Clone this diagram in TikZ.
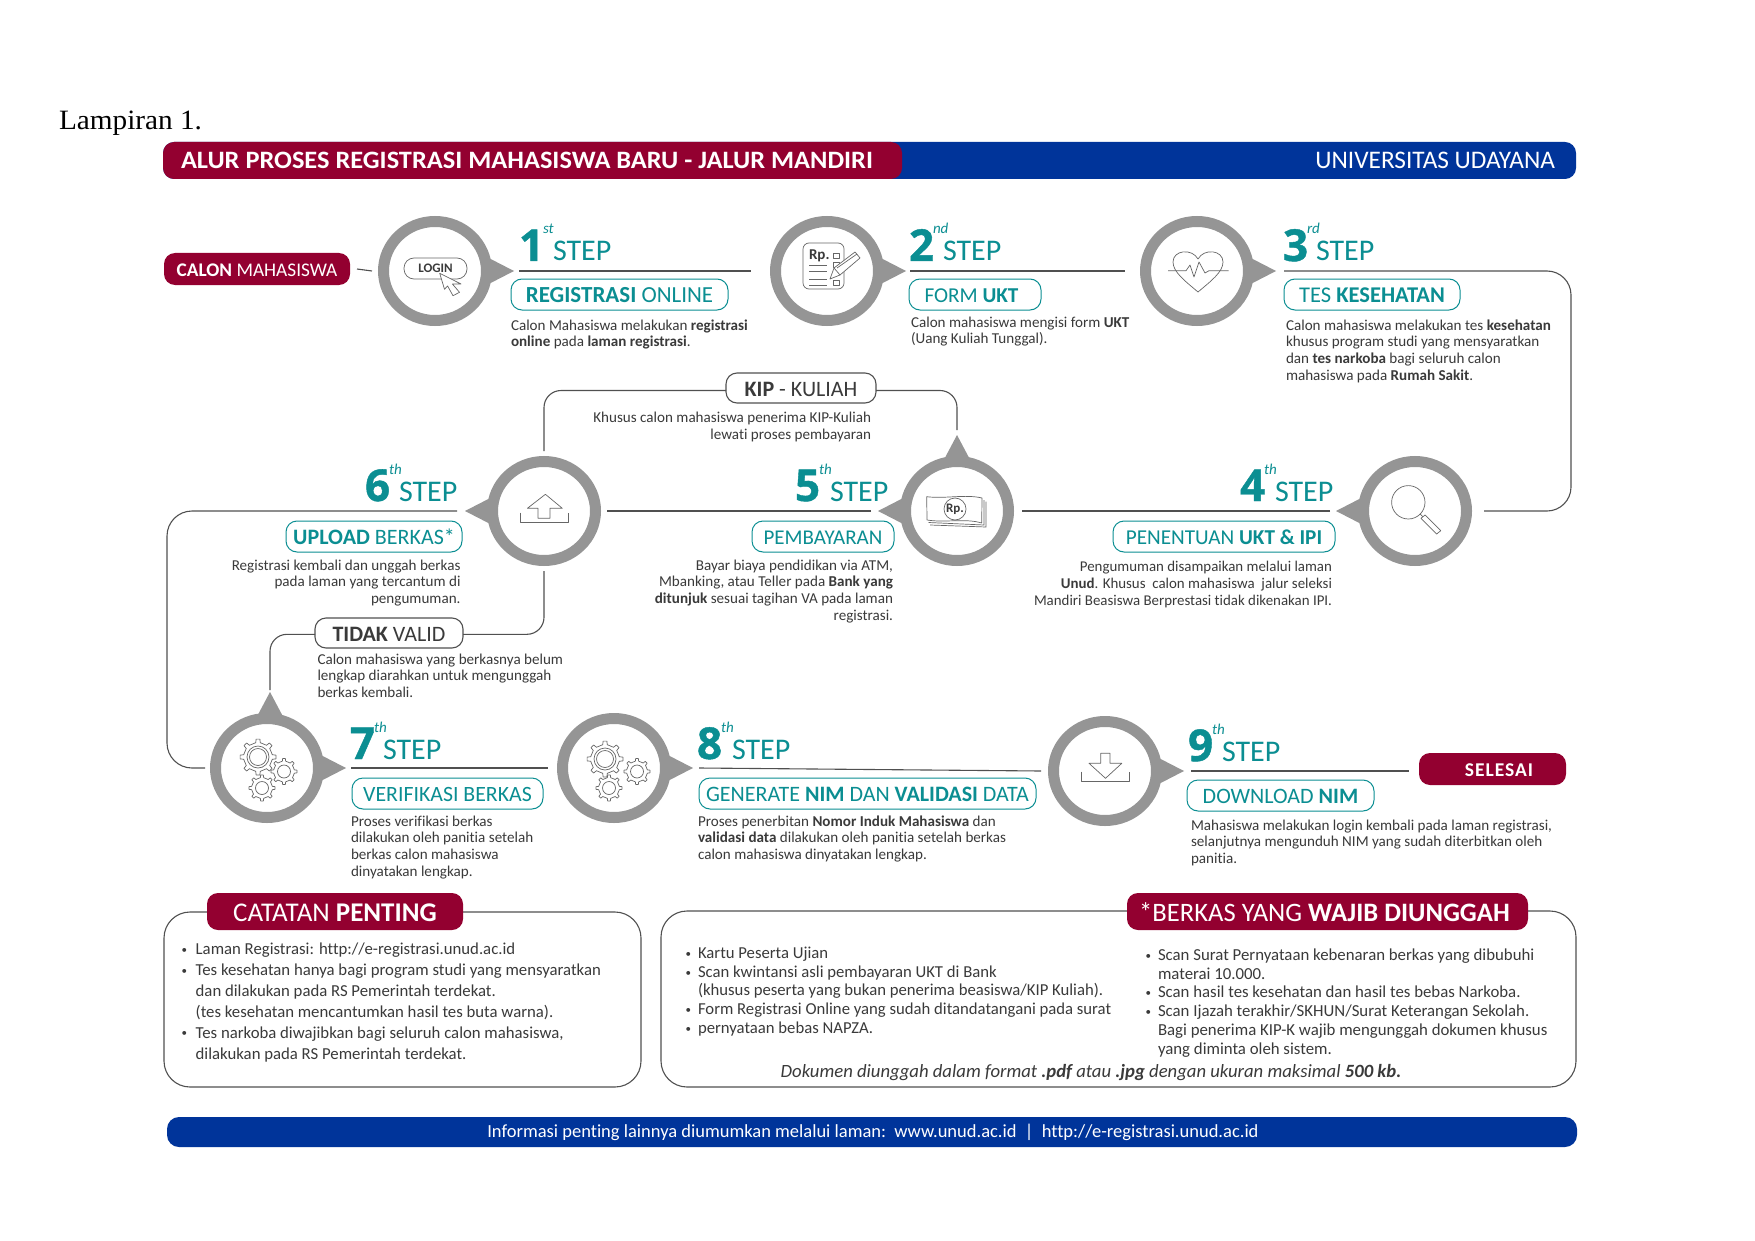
\documentclass[tikz,border=0pt]{standalone}
\usepackage{fontspec}
\setmainfont[Ligatures=CommonOff]{Carlito}
\newfontfamily\lampfont{Liberation Serif}
\newfontfamily\digfont[BoldFeatures={FakeBold=1}]{Open Sans}
\usetikzlibrary{shapes.geometric,calc}
\definecolor{crimson}{HTML}{930030}
\definecolor{royal}{HTML}{00349A}
\definecolor{tealc}{HTML}{0B8E92}
\definecolor{ringc}{HTML}{959595}
\definecolor{txt}{HTML}{3A3A3A}
\definecolor{linec}{HTML}{505050}
\definecolor{iconc}{HTML}{666666}
\newcommand\fs[2]{\fontsize{#1}{#2}\selectfont}
\newcommand\blockL[1]{\begin{tabular}[t]{@{}l@{}}#1\end{tabular}}
\newcommand\blockR[1]{\begin{tabular}[t]{@{}r@{}}#1\end{tabular}}
\newcommand\bu[2]{\makebox[#1pt][l]{\hspace{1.5pt}\fs{11}{11}\raisebox{1.2pt}{•}}#2}
\newcommand\cont[2]{\hspace*{#1pt}#2}
\tikzset{
  x=1pt,y=-1pt,
  lbl/.style={inner sep=0pt,outer sep=0pt,text=txt},
  descL/.style={lbl,anchor=base west,font=\fs{15.1}{16.8}},
  descR/.style={lbl,anchor=base east,font=\fs{15.1}{16.8}},
  boxbase/.style={inner sep=0pt,outer sep=0pt,align=center},
  tealpill/.style={boxbase,draw=tealc,fill=white,line width=1pt,rounded corners=11pt,text=tealc,text height=16.5pt,text depth=0pt},
  darkpill/.style={boxbase,draw=linec,fill=white,line width=1.1pt,rounded corners=11pt,text=txt,font=\fs{22}{24},text height=16.5pt,text depth=0pt},
  redbar/.style={boxbase,fill=crimson,rounded corners=11pt,text=white},
  bluebar/.style={boxbase,fill=royal,rounded corners=11pt,text=white},
  framebox/.style={boxbase,draw=linec,line width=1.1pt,rounded corners=26pt},
  ringnode/.style={ellipse,draw=ringc,fill=white,line width=11pt,minimum width=103pt,minimum height=99pt,inner sep=0pt,outer sep=0pt},
  conn/.style={draw=linec,line width=1.1pt},
  ic/.style={draw=iconc,line width=.7pt,line join=round},
  icwhite/.style={ic,fill=white},
  dignum/.style={inner sep=0pt,outer sep=0pt,anchor=base west,text=tealc,font=\digfont\bfseries\fs{44}{44}},
  supnum/.style={inner sep=0pt,outer sep=0pt,anchor=base west,text=tealc,font=\itshape\fs{15}{15}},
  steptxt/.style={inner sep=0pt,outer sep=0pt,anchor=base west,text=tealc,font=\fs{30}{30}},
}
\newcommand\boxat[7]{\node[#1,minimum width={(#5-#3)*1pt},minimum height={(#6-#4)*1pt}] (#2) at ({(#3+#5)/2},{(#4+#6)/2}) {#7};}
\newcommand\tipR[2]{\fill[ringc] ({#1+79},#2) -- ({#1+44},{#2-18}) -- ({#1+44},{#2+18}) -- cycle;}
\newcommand\tipL[2]{\fill[ringc] ({#1-79},#2) -- ({#1-44},{#2-18}) -- ({#1-44},{#2+18}) -- cycle;}
\newcommand\tipT[2]{\fill[ringc] (#1,{#2-76}) -- ({#1-18},{#2-42}) -- ({#1+18},{#2-42}) -- cycle;}
\newcommand\stepmark[6]{%
  \node[dignum] (dg#1) at (#2,#3) {#4};
  \node[supnum] (su#1) at ({#2+24},{#3-27}) {#5};
  \node[steptxt] (st#1) at (#6,#3) {STEP};}
\newcommand\gearicon[6]{%
  \draw[ic,shift={(#1,#2)}] (-9:#4)
    \foreach \a in {0,45,...,315}{ -- (\a-9:#4) -- (\a-6:#3) -- (\a+6:#3) -- (\a+9:#4) -- (\a+36:#4)}
    -- cycle;
  \draw[ic] (#1,#2) circle[radius=#5];
  \ifdim #6pt>0pt \draw[ic] (#1,#2) circle[radius=#6];\fi}
\begin{document}
\begin{tikzpicture}
\useasboundingbox (0,0) rectangle (1755,1241);
\fill[white] (0,0) rectangle (1755,1241);
\node[lbl,anchor=base west,text=black,font=\lampfont\fs{28}{28}] (lamp) at (59,130) {\resizebox{143pt}{\height}{Lampiran 1.}};
% header
\boxat{bluebar}{hblue}{163}{142}{1576}{179}{}
\boxat{redbar}{hred}{163}{142}{902}{179}{}
\node[lbl,anchor=base west,text=white,font=\bfseries\fs{25}{26}] (htitle) at (181,169) {\resizebox{692pt}{\height}{ALUR PROSES REGISTRASI MAHASISWA BARU - JALUR MANDIRI}};
\node[lbl,anchor=base east,text=white,font=\fs{25.3}{26}] (huni) at (1555,169) {UNIVERSITAS UDAYANA};
% start
\boxat{redbar,font=\fs{19.3}{22},text height=14.5pt,text depth=0pt}{calon}{164}{253}{350}{285}{\textbf{CALON} MAHASISWA}
% rings and their tips
\tipR{435}{271}\node[ringnode] (c1) at (435,271) {};\coordinate (tip1) at (514,271);
\tipR{827}{271}\node[ringnode] (c2) at (827,271) {};\coordinate (tip2) at (906,271);
\tipR{1197}{271}\node[ringnode] (c3) at (1197,271) {};\coordinate (tip3) at (1276,271);
\tipL{1415}{511}\node[ringnode] (c4) at (1415,511) {};\coordinate (tip4) at (1336,511);
\tipL{957}{511}\tipT{957}{511}\node[ringnode] (c5) at (957,511) {};\coordinate (tip5) at (878,511);\coordinate (tip5t) at (957,435);
\tipL{544}{511}\node[ringnode] (c6) at (544,511) {};\coordinate (tip6) at (465,511);
\tipR{267}{768}\tipT{270}{768}\node[ringnode] (c7) at (267,768) {};\coordinate (tip7) at (346,768);\coordinate (tip7t) at (270,692);
\tipR{614}{768}\node[ringnode] (c8) at (614,768) {};\coordinate (tip8) at (693,768);
\tipR{1105}{771}\node[ringnode] (c9) at (1105,771) {};\coordinate (tip9) at (1184,771);
% connectors
\boxat{redbar,font=\bfseries\fs{19.5}{22}\addfontfeature{LetterSpace=5},text height=14pt,text depth=0pt}{selesai}{1419}{753}{1566}{785}{\hspace{13pt}SELESAI}
\draw[conn] ([xshift=7pt]calon.east) -- ([xshift=-11.5pt]c1.west);
\draw[conn] ([xshift=5pt]tip1) -- ([xshift=-24.5pt]c2.west);
\draw[conn] ([xshift=4pt]tip2) -- ([xshift=-20.5pt]c3.west);
\coordinate (cr3) at (1571,271);
\draw[conn,rounded corners=24pt] ([xshift=8pt]tip3) -- (cr3) -- (cr3 |- c4.east) -- ([xshift=17.5pt]c4.east);
\draw[conn] ([xshift=-6pt]tip4) -- ([xshift=13.5pt]c5.east);
\draw[conn] ([xshift=-7pt]tip5) -- ([xshift=11.5pt]c6.east);
\coordinate (cr6) at (167,511);
\draw[conn,rounded corners=25pt] ([xshift=-8pt]tip6) -- (cr6) -- (cr6 |- c7.west) -- ([xshift=-10.5pt]c7.west);
\draw[conn] ([xshift=5pt]tip7) -- ([xshift=-14.5pt]c8.west);
\draw[conn] ([xshift=6pt]tip8) -- ([xshift=-12.5pt]c9.west);
\draw[conn] ([xshift=7pt]tip9) -- ([xshift=-10pt]selesai.west |- tip9);
% side routes
\boxat{darkpill}{kip}{726}{373}{876}{403}{\textbf{KIP} - KULIAH}
\boxat{darkpill}{tidak}{315}{618}{463}{648}{\textbf{TIDAK} VALID}
\draw[conn,rounded corners=17pt] ([yshift=-2.5pt]kip.west) -| ([yshift=10.5pt]c6.north);
\draw[conn,rounded corners=17pt] ([yshift=-2.5pt]kip.east) -| ([yshift=5pt]tip5t);
\draw[conn,rounded corners=17pt] ([yshift=-1.3pt]tidak.east) -| ([yshift=-10.5pt]c6.south);
\draw[conn,rounded corners=17pt] ([yshift=-1.3pt]tidak.west) -| ([yshift=2pt]tip7t);
% steps
\stepmark{1}{519}{261}{1}{st}{553}
\stepmark{2}{909}{261}{2}{nd}{943}
\stepmark{3}{1283}{261}{3}{rd}{1316}
\stepmark{4}{1240}{501}{4}{th}{1275}
\stepmark{5}{795}{501}{5}{th}{830}
\stepmark{6}{365}{501}{6}{th}{399}
\stepmark{7}{350}{759}{7}{th}{383}
\stepmark{8}{697}{759}{8}{th}{732}
\stepmark{9}{1188}{761}{9}{th}{1222}
% step titles
\boxat{tealpill,font=\fs{23}{24}}{p1}{511}{279}{728}{310}{\textbf{REGISTRASI} ONLINE}
\boxat{tealpill,font=\fs{21.2}{24}}{p2}{909}{279}{1041}{310}{FORM \textbf{UKT}\hspace{7pt}}
\boxat{tealpill,font=\fs{22.5}{24}}{p3}{1284}{279}{1460}{310}{TES \textbf{KESEHATAN}}
\boxat{tealpill,font=\fs{21.2}{24}}{p4}{1113}{521}{1335}{552}{PENENTUAN \textbf{UKT \& IPI}}
\boxat{tealpill,font=\fs{21}{24}}{p5}{752}{521}{894}{552}{PEMBAYARAN}
\boxat{tealpill,font=\fs{22}{24}}{p6}{286}{521}{462}{552}{\textbf{UPLOAD} BERKAS*}
\boxat{tealpill,font=\fs{21.8}{24}}{p7}{352}{778}{543}{809}{VERIFIKASI BERKAS}
\boxat{tealpill,font=\fs{22}{24}}{p8}{699}{778}{1036}{809}{GENERATE \textbf{NIM} DAN \textbf{VALIDASI} DATA}
\boxat{tealpill,font=\fs{22}{24}}{p9}{1187}{780}{1374}{811}{DOWNLOAD \textbf{NIM}}
% descriptions
\node[descL] (d1) at (511,330) {\blockL{Calon Mahasiswa melakukan \textbf{registrasi}\\\textbf{online} pada \textbf{laman registrasi}.}};
\node[descL] (d2) at (911,327) {\blockL{Calon mahasiswa mengisi form \textbf{UKT}\\(Uang Kuliah Tunggal).}};
\node[descL] (d3) at (1286,330) {\blockL{Calon mahasiswa melakukan tes \textbf{kesehatan}\\khusus program studi yang mensyaratkan\\dan \textbf{tes narkoba} bagi seluruh calon\\mahasiswa pada \textbf{Rumah Sakit}.}};
\node[descR,font=\fs{14.9}{16.8}] (d4) at (1332,571.5) {\blockR{Pengumuman disampaikan melalui laman\\\textbf{Unud}. Khusus\ \ calon mahasiswa\ \ jalur seleksi\\Mandiri Beasiswa Berprestasi tidak dikenakan IPI.}};
\node[descR] (d5) at (893,570) {\blockR{Bayar biaya pendidikan via ATM,\\Mbanking, atau Teller pada \textbf{Bank yang}\\\textbf{ditunjuk} sesuai tagihan VA pada laman\\registrasi.}};
\node[descR] (d6) at (460.5,570) {\blockR{Registrasi kembali dan unggah berkas\\pada laman yang tercantum di\\pengumuman.}};
\node[descL] (d7) at (351,826) {\blockL{Proses verifikasi berkas\\dilakukan oleh panitia setelah\\berkas calon mahasiswa\\dinyatakan lengkap.}};
\node[descL] (d8) at (698,826) {\blockL{Proses penerbitan \textbf{Nomor Induk Mahasiswa} dan\\\textbf{validasi data} dilakukan oleh panitia setelah berkas\\calon mahasiswa dinyatakan lengkap.}};
\node[descL] (d9) at (1191,830) {\blockL{Mahasiswa melakukan login kembali pada laman registrasi,\\selanjutnya mengunduh NIM yang sudah diterbitkan oleh\\panitia.}};
\node[descR] (dkip) at (871,422.5) {\blockR{Khusus calon mahasiswa penerima KIP-Kuliah\\lewati proses pembayaran}};
\node[descL] (dtidak) at (317.5,664) {\blockL{Calon mahasiswa yang berkasnya belum\\lengkap diarahkan untuk mengunggah\\berkas kembali.}};
% notes
\boxat{framebox}{boxa}{164}{912}{641}{1087}{}
\boxat{framebox}{boxb}{661}{911}{1576}{1087}{}
\boxat{redbar,font=\fs{27}{28},text height=19.5pt,text depth=0pt}{nota}{207}{893}{463}{930}{CATATAN \textbf{PENTING}}
\boxat{redbar,font=\fs{26.6}{28},text height=19.5pt,text depth=0pt}{notb}{1127}{893}{1528}{930}{*BERKAS YANG \textbf{WAJIB DIUNGGAH}\hspace{6pt}}
\node[lbl,anchor=base west,font=\fs{16.75}{20.9}] (ta) at (180,954.5) {\blockL{\bu{15.7}{Laman Registrasi: http://e-registrasi.unud.ac.id}\\\bu{15.7}{Tes kesehatan hanya bagi program studi yang mensyaratkan}\\\cont{15.7}{dan dilakukan pada RS Pemerintah terdekat.}\\\cont{15.7}{(tes kesehatan mencantumkan hasil tes buta warna).}\\\bu{15.7}{Tes narkoba diwajibkan bagi seluruh calon mahasiswa,}\\\cont{15.7}{dilakukan pada RS Pemerintah terdekat.}}};
\node[lbl,anchor=base west,font=\fs{16.7}{18.7}] (tb) at (684,958.5) {\blockL{\bu{14}{Kartu Peserta Ujian}\\\bu{14}{Scan kwintansi asli pembayaran UKT di Bank}\\\cont{14}{(khusus peserta yang bukan penerima beasiswa/KIP Kuliah).}\\\bu{14}{Form Registrasi Online yang sudah ditandatangani pada surat}\\\bu{14}{pernyataan bebas NAPZA.}}};
\node[lbl,anchor=base west,font=\fs{16.8}{18.7}] (tc) at (1144,960.5) {\blockL{\bu{14}{Scan Surat Pernyataan kebenaran berkas yang dibubuhi}\\\cont{14}{materai 10.000.}\\\bu{14}{Scan hasil tes kesehatan dan hasil tes bebas Narkoba.}\\\bu{14}{Scan Ijazah terakhir/SKHUN/Surat Keterangan Sekolah.}\\\cont{14}{Bagi penerima KIP-K wajib mengunggah dokumen khusus}\\\cont{14}{yang diminta oleh sistem.}}};
\node[lbl,anchor=base,font=\itshape\fs{18.7}{20}] (tf) at (1091,1077) {Dokumen diunggah dalam format \textbf{.pdf} atau \textbf{.jpg} dengan ukuran maksimal \textbf{500 kb.}};
% footer
\boxat{bluebar,rounded corners=12pt}{foot}{167}{1117}{1577}{1147}{}
\node[lbl,anchor=base,text=white,font=\fs{18.5}{20}] (ftxt) at (873,1137.5) {Informasi penting lainnya diumumkan melalui laman:\ \ www.unud.ac.id\ \ |\ \ http://e-registrasi.unud.ac.id};
% icon 1 login
\boxat{ic,rounded corners=10pt,inner sep=0pt,font=\bfseries\fs{13}{14},text=txt}{login}{404}{258}{467}{279}{LOGIN}
\filldraw[icwhite] (439.7,273.3) -- (444.5,289.3) -- (447.6,286) -- (453,295.7) -- (459.5,292.3) -- (452.4,284) -- (461,284) -- cycle;
% icon 2 form
\draw[ic,rounded corners=6pt] (803,243) rectangle (844,289);
\node[lbl,anchor=base west,font=\bfseries\fs{15}{16}] (rpa) at (809,260) {Rp.};
\foreach \yy in {265,271.7,279,285.7} \draw[ic] (809,\yy) -- (827,\yy);
\draw[ic] (833,253) rectangle (839,258);
\draw[ic] (833,262) rectangle (839,267);
\draw[ic] (833,280) rectangle (839,285);
\filldraw[icwhite] (830,279) -- (834,268) -- (855,252) -- (860,258) -- (840,275) -- cycle;
\draw[ic] (834,268) -- (840,275);
\draw[ic] (837,268) -- (857,254);
% icon 3 heart
\draw[ic] (1198,292) .. controls (1185,281) and (1173,272) .. (1173,262) .. controls (1173,250) and (1192,248) .. (1198,259) .. controls (1204,248) and (1223,250) .. (1223,262) .. controls (1223,272) and (1211,281) .. (1198,292);
\fill[white] (1186,266) rectangle (1209,275);
\draw[ic] (1168,270.7) -- (1186,270.7) -- (1190,265) -- (1194,277) -- (1199,262) -- (1205,273) -- (1209,270.7) -- (1228.5,270.7);
% icon 4 magnifier
\draw[ic] (1408.3,502.3) circle[radius=16.7];
\draw[ic] (1420,514) -- (1423,517);
\draw[icwhite] (1425,515) -- (1440.7,530.7) -- (1436.7,534) -- (1421,518.3) -- cycle;
% icon 5 money
\draw[ic] (930,525) -- (986,527) -- (986,501.7);
\draw[ic] (928.5,522.5) -- (984,525) -- (984,500);
\draw[icwhite] (926.7,496.7) .. controls (945,499) and (965,494) .. (982,498) -- (981.7,523) .. controls (965,518) and (945,523) .. (927,520) -- cycle;
\draw[ic] (955,509) circle[radius=11];
\node[lbl,font=\bfseries\fs{13}{14}] (rpb) at (955,509) {Rp.};
% icon 6 upload
\draw[ic] (545.4,494.3) -- (562.3,508.3) -- (550,508.3) -- (550,518.3) -- (538,518.3) -- (538,508.3) -- (527.4,508.3) -- cycle;
\draw[ic] (520,512.7) -- (520,522.7) -- (568.6,522.7) -- (568.6,512.7);
% icon 7 and 8 gears
\gearicon{258}{757}{18}{14.5}{11}{8.5}
\gearicon{284}{771.5}{13}{10.5}{6.5}{0}
\gearicon{262}{788}{13}{10.5}{6.5}{0}
\gearicon{605}{759}{18}{14.5}{11}{8.5}
\gearicon{637}{771.5}{13}{10.5}{6.5}{0}
\gearicon{609}{788}{13}{10.5}{6.5}{0}
% icon 9 download
\draw[ic] (1081,771.7) -- (1081,781.7) -- (1129.8,781.7) -- (1129.8,771.7);
\draw[ic] (1100.7,753.3) -- (1110,753.3) -- (1110,763.3) -- (1121.8,763.3) -- (1105.5,778.3) -- (1089,763.3) -- (1100.7,763.3) -- cycle;
\end{tikzpicture}
\end{document}
